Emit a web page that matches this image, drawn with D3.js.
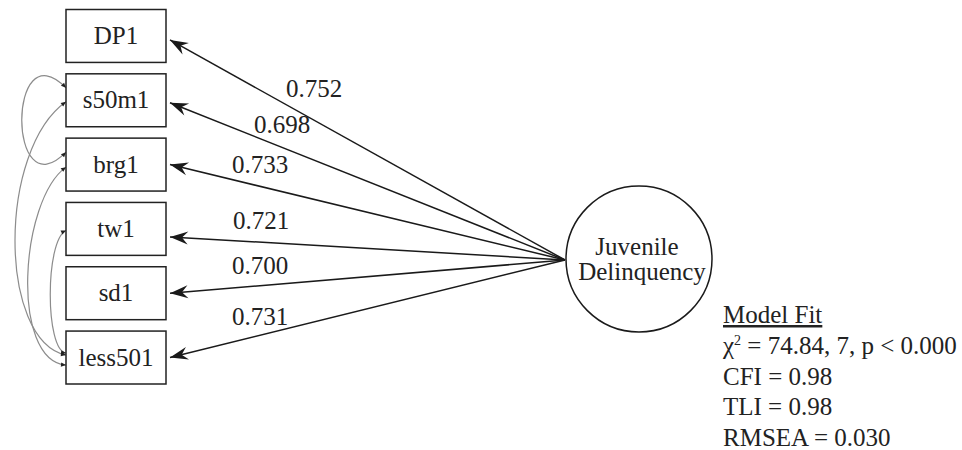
<!DOCTYPE html>
<html>
<head>
<meta charset="utf-8">
<script src="https://cdn.jsdelivr.net/npm/d3@7"></script>
<style>
  body { margin: 0; background: #fff; }
</style>
</head>
<body>
<div id="canvas"></div>
<script>
"use strict"

/* Data */
let indicators = ["DP1", "s50m1", "brg1", "tw1", "sd1", "less501"];
let loadings = [0.752, 0.698, 0.733, 0.721, 0.700, 0.731];
let latentName = ["Juvenile", "Delinquency"];
let covFrom = ["s50m1", "s50m1", "brg1", "tw1"];
let covTo = ["brg1", "less501", "less501", "less501"];
let fitTitle = "Model Fit";
let fitLines = ["= 74.84, 7, p < 0.000", "CFI = 0.98", "TLI = 0.98", "RMSEA = 0.030"];

/* Drawing config */
let svgWidth = 962;
let svgHeight = 450;
let boxX = 66;
let boxW = 100;
let latentX = 639, latentY = 259, latentR = 73;
let serif = "'Liberation Serif', 'Times New Roman', Times, 'DejaVu Serif', serif";
let fontSize = "25px";

// small layout tweaks
let tipShift = [4, 2.5, 0, 8, 0, 0];          // arrow tip vs box centre
let labelX = [314, 282, 260, 261, 260, 260];   // centre of each loading label
let labelGap = [23, 14, 13, 13, 12, 10];       // height above the arrow
let covStart = [14, 28, 29, 28];               // offset from top of box
let covEnd = [14, 24, 34, 22];
let covBulge = [[7, 7], [-2, -2], [20, 10], [45, 45]];
let covReach = [[-60, 60], [48, -15], [33, -5], [10, -3]];

let svg = d3.select("#canvas")
  .append("svg")
  .attr("width", svgWidth)
  .attr("height", svgHeight)
  .attr("font-family", serif)
  .style("font-family", serif);

let defs = svg.append("defs");
defs.append("marker")
  .attr("id", "head")
  .attr("markerUnits", "userSpaceOnUse")
  .attr("viewBox", "-20 -8 22 16")
  .attr("refX", 0).attr("refY", 0)
  .attr("markerWidth", 22).attr("markerHeight", 16)
  .attr("orient", "auto")
  .append("path")
  .attr("d", "M0,0 L-18,-6.5 L-12,0 L-18,6.5 Z")
  .attr("fill", "#1a1a1a");

defs.append("marker")
  .attr("id", "tiny")
  .attr("markerUnits", "userSpaceOnUse")
  .attr("viewBox", "-6 -3 7 6")
  .attr("refX", 0).attr("refY", 0)
  .attr("markerWidth", 7).attr("markerHeight", 6)
  .attr("orient", "auto-start-reverse")
  .append("path")
  .attr("d", "M0,0 L-5,-2.2 L-5,2.2 Z")
  .attr("fill", "#222");

/* Box positions */
let yScale = d3.scaleBand()
  .domain(indicators)
  .range([9.5, 384])
  .paddingInner(0.177)
  .paddingOuter(0);

/* Covariance curves */
for (let i = 0; i < covFrom.length; i = i + 1) {
  let y1 = yScale(covFrom[i]) + covStart[i];
  let y2 = yScale(covTo[i]) + covEnd[i];
  let p = d3.path();
  p.moveTo(boxX, y1);
  p.bezierCurveTo(covBulge[i][0], y1 + covReach[i][0],
                  covBulge[i][1], y2 + covReach[i][1],
                  boxX, y2);
  svg.append("path")
    .attr("d", p.toString())
    .attr("fill", "none")
    .attr("stroke", "#8c8c8c")
    .attr("stroke-width", 1.2)
    .attr("marker-start", "url(#tiny)")
    .attr("marker-end", "url(#tiny)");
}

/* Indicator boxes */
let boxes = svg.selectAll("g.box")
  .data(indicators)
  .enter()
  .append("g")
  .attr("class", "box");

boxes.append("rect")
  .attr("x", boxX)
  .attr("y", function(d){ return yScale(d); })
  .attr("width", boxW)
  .attr("height", yScale.bandwidth())
  .attr("fill", "#fff")
  .attr("stroke", "#222")
  .attr("stroke-width", 1.5);

boxes.append("text")
  .attr("x", boxX + boxW / 2)
  .attr("y", function(d){ return yScale(d) + yScale.bandwidth() / 2 + 8; })
  .attr("text-anchor", "middle")
  .attr("fill", "#222")
  .style("font-size", fontSize)
  .text(function(d){ return d; });

/* Loading arrows */
let srcX = latentX - latentR - 1;
let srcY = latentY + 1;
let tipX = boxX + boxW + 4;

indicators.forEach(function(d, i) {
  let ty = yScale(d) + yScale.bandwidth() / 2 + tipShift[i];
  svg.append("line")
    .attr("x1", srcX).attr("y1", srcY)
    .attr("x2", tipX).attr("y2", ty)
    .attr("stroke", "#1a1a1a")
    .attr("stroke-width", 1.5)
    .attr("marker-end", "url(#head)");

  // label sits above its arrow
  let lx = labelX[i];
  let ly = ty + (srcY - ty) * (lx - tipX) / (srcX - tipX) - labelGap[i];
  svg.append("text")
    .attr("x", lx)
    .attr("y", ly)
    .attr("text-anchor", "middle")
    .attr("fill", "#222")
    .style("font-size", fontSize)
    .text(d3.format(".3f")(loadings[i]));
});

/* Latent factor */
svg.append("circle")
  .attr("cx", latentX)
  .attr("cy", latentY)
  .attr("r", latentR)
  .attr("fill", "#fff")
  .attr("stroke", "#1a1a1a")
  .attr("stroke-width", 1.5);

svg.append("text")
  .attr("x", latentX - 2)
  .attr("y", latentY - 4)
  .attr("text-anchor", "middle")
  .attr("fill", "#222")
  .style("font-size", fontSize)
  .text(latentName[0]);

svg.append("text")
  .attr("x", latentX + 3)
  .attr("y", latentY + 21)
  .attr("text-anchor", "middle")
  .attr("fill", "#222")
  .style("font-size", fontSize)
  .text(latentName[1]);

/* Model fit block */
let fitX = 723;
let fitY = 323;
let lineH = 30.8;

svg.append("text")
  .attr("x", fitX)
  .attr("y", fitY)
  .attr("fill", "#222")
  .style("font-size", fontSize)
  .style("text-decoration", "underline")
  .text(fitTitle);

let chi = svg.append("text")
  .attr("x", fitX)
  .attr("y", fitY + lineH)
  .attr("fill", "#222")
  .style("font-size", fontSize);
chi.append("tspan").text("\u03C7");
chi.append("tspan")
  .attr("dy", -9)
  .style("font-size", "14px")
  .text("2");
chi.append("tspan")
  .attr("dy", 9)
  .text(" " + fitLines[0]);

for (let i = 1; i < fitLines.length; i = i + 1) {
  svg.append("text")
    .attr("x", fitX)
    .attr("y", fitY + lineH * (i + 1))
    .attr("fill", "#222")
    .style("font-size", fontSize)
    .text(fitLines[i]);
}
</script>
</body>
</html>
